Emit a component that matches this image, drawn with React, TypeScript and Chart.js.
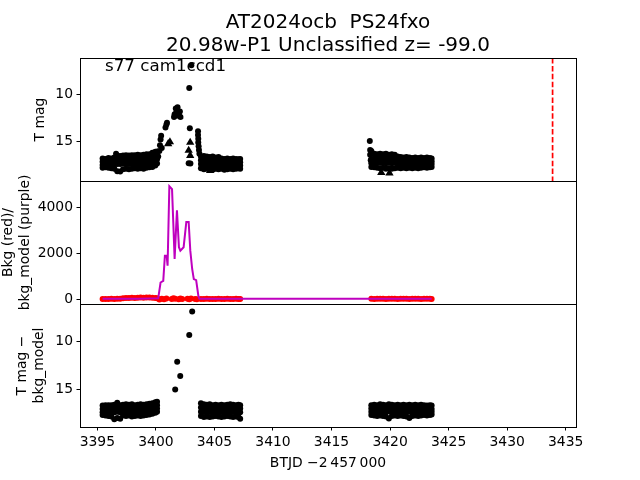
import React, { useEffect, useRef } from 'react';
import { Chart, registerables } from 'chart.js';

Chart.register(...registerables);

// ---------- text ----------
const titleLines = ['AT2024ocb  PS24fxo', '20.98w-P1 Unclassified z= -99.0'];
const panelLabel = 's77 cam1ccd1';
const xLabel = 'BTJD \u22122\u2009457\u2009000';
const yLabelTop = 'T mag';
const yLabelMid = ['Bkg (red)/', 'bkg_model (purple)'];
const yLabelBot = ['T mag \u2212', 'bkg_model'];

// ---------- axes ----------
const xRange = [3393.52, 3435.88];
const xTicks = [3395, 3400, 3405, 3410, 3415, 3420, 3425, 3430, 3435];
const magTopRange = [6.12, 19.2];
const magTicks = [10, 15];
const bkgRange = [-207, 5156];
const bkgTicks = [0, 2000, 4000];
const magBotRange = [6.02, 19.01];
const discoveryDate = 3433.88;

// ---------- observation times of the three data segments ----------
const tA = [3395.45, 3395.7, 3395.95, 3396.2, 3396.45, 3396.7, 3396.95, 3397.2, 3397.45, 3397.7, 3397.95, 3398.2, 3398.45, 3398.7, 3398.95, 3399.2, 3399.45, 3399.7, 3399.95, 3400.1];
const tB = [3403.85, 3404.1, 3404.35, 3404.6, 3404.85, 3405.1, 3405.35, 3405.6, 3405.85, 3406.1, 3406.35, 3406.6, 3406.85, 3407.05, 3407.2];
const tC = [3418.4, 3418.65, 3418.9, 3419.15, 3419.4, 3419.65, 3419.9, 3420.15, 3420.4, 3420.65, 3420.9, 3421.15, 3421.4, 3421.65, 3421.9, 3422.15, 3422.4, 3422.65, 3422.9, 3423.15, 3423.4, 3423.55];

// ---------- top panel: T mag (dots) ----------
const magA1 = [16.8, 16.85, 16.75, 16.8, 16.7, 16.5, 16.55, 16.5, 16.45, 16.5, 16.45, 16.45, 16.4, 16.45, 16.4, 16.35, 16.35, 16.2, 16.1, 16.05];
const magA2 = [17.15, 17.2, 17.1, 17.15, 17.05, 16.95, 16.95, 16.9, 16.9, 16.95, 16.9, 16.9, 16.85, 16.9, 16.85, 16.8, 16.8, 16.7, 16.55, 16.45];
const magA3 = [17.5, 17.5, 17.45, 17.5, 17.45, 17.4, 17.4, 17.35, 17.4, 17.4, 17.35, 17.35, 17.35, 17.3, 17.35, 17.3, 17.25, 17.2, 17.05, 16.9];
const magA4 = [17.8, 17.75, 17.8, 17.85, 17.9, 18.15, 18.2, 17.95, 17.9, 17.95, 17.9, 17.85, 17.9, 17.85, 17.9, 17.8, 17.75, 17.7, 17.55, 17.35];
const magB1 = [16.6, 16.55, 16.6, 16.65, 16.6, 16.7, 16.65, 16.8, 16.85, 16.8, 16.85, 16.8, 16.85, 16.9, 16.85];
const magB2 = [17.0, 17.0, 17.05, 17.05, 17.0, 17.1, 17.05, 17.15, 17.2, 17.15, 17.2, 17.15, 17.2, 17.2, 17.2];
const magB3 = [17.4, 17.45, 17.45, 17.5, 17.45, 17.5, 17.45, 17.5, 17.55, 17.5, 17.55, 17.5, 17.55, 17.5, 17.55];
const magB4 = [17.85, 17.95, 17.9, 17.95, 18.0, 17.9, 17.95, 17.9, 18.0, 17.95, 17.9, 17.95, 17.9, 17.85, 17.9];
const magC1 = [16.0, 16.3, 16.35, 16.3, 16.35, 16.3, 16.4, 16.35, 16.4, 16.6, 16.65, 16.7, 16.65, 16.7, 16.75, 16.7, 16.75, 16.7, 16.75, 16.7, 16.75, 16.8];
const magC2 = [16.9, 16.8, 16.75, 16.8, 16.75, 16.8, 16.85, 16.8, 16.85, 17.0, 17.05, 17.05, 17.0, 17.05, 17.1, 17.05, 17.1, 17.05, 17.1, 17.05, 17.1, 17.1];
const magC3 = [17.3, 17.25, 17.2, 17.25, 17.2, 17.3, 17.25, 17.3, 17.25, 17.4, 17.4, 17.45, 17.4, 17.45, 17.4, 17.45, 17.4, 17.45, 17.4, 17.45, 17.4, 17.4];
const magC4 = [17.7, 17.75, 17.8, 17.85, 17.8, 17.9, 17.85, 17.9, 17.85, 17.8, 17.85, 17.8, 17.85, 17.8, 17.85, 17.8, 17.85, 17.8, 17.75, 17.8, 17.75, 17.7];
const flareTimes = [3400.2, 3400.3, 3400.35, 3400.4, 3400.45, 3400.5, 3400.82, 3400.9, 3400.95, 3401.55, 3401.6, 3401.7, 3401.75, 3401.85, 3401.95, 3402.05, 3402.1, 3402.85, 3402.9, 3403.03, 3403.6, 3403.6, 3403.62, 3403.62, 3403.65, 3403.68, 3403.72, 3402.8, 3402.95, 3418.27, 3418.3, 3418.3, 3418.35, 3396.6];
const flareMags = [16.6, 16.0, 15.4, 14.8, 14.4, 15.7, 13.5, 13.2, 13.0, 12.4, 12.1, 11.5, 11.9, 11.35, 12.2, 11.8, 12.4, 9.3, 13.6, 6.9, 13.9, 14.3, 14.7, 15.1, 15.5, 15.9, 16.3, 17.3, 17.35, 14.95, 15.9, 16.4, 17.0, 16.3];
// top panel: triangle markers
const triTimes = [3401.05, 3401.2, 3401.9, 3402.0, 3402.93, 3402.8, 3402.93, 3404.63, 3419.25, 3419.95];
const triMags = [15.25, 15.05, 12.0, 12.3, 15.1, 15.95, 16.5, 18.1, 18.3, 18.35];

// ---------- middle panel: background ----------
const bkgA = [10, 15, 10, 20, 15, 20, 25, 40, 50, 60, 70, 60, 70, 80, 70, 75, 80, 70, 60, 40];
const bkgB = [10, 15, 20, 10, 15, 10, 20, 15, 10, 20, 15, 10, 20, 15, 10];
const bkgC = [20, 15, 20, 25, 20, 15, 20, 25, 20, 15, 20, 25, 20, 15, 20, 25, 20, 15, 20, 25, 20, 15];
const bkgFlareTimes = [3400.3, 3400.5, 3400.7, 3400.9, 3401.35, 3401.5, 3401.65, 3401.95, 3402.1, 3402.25, 3402.7, 3402.85, 3403.0, 3403.35, 3403.5];
const bkgFlareVals = [-10, 20, 0, 30, 10, 40, 20, 0, 30, 10, 20, 0, 30, 10, 0];
const modelTimes = [3395.45, 3396.5, 3397.5, 3398.5, 3399.5, 3400.2, 3400.4, 3400.63, 3400.77, 3400.92, 3401.0, 3401.15, 3401.38, 3401.48, 3401.6, 3401.8, 3401.97, 3402.09, 3402.37, 3402.6, 3402.8, 3402.94, 3403.1, 3403.24, 3403.44, 3403.63, 3403.72, 3405.5, 3407.2, 3418.35, 3420.5, 3423.55];
const modelVals = [20, 20, 25, 25, 30, 40, 730, 800, 1900, 1900, 1460, 4930, 4800, 3440, 1760, 3880, 2270, 2120, 2270, 3370, 3370, 2120, 1320, 880, 835, 145, 20, 20, 20, 20, 20, 20];

// ---------- bottom panel: T mag - bkg_model ----------
const difA1 = [16.75, 16.7, 16.7, 16.7, 16.65, 16.45, 16.7, 16.65, 16.6, 16.65, 16.6, 16.7, 16.65, 16.6, 16.65, 16.6, 16.55, 16.5, 16.4, 16.35];
const difA2 = [17.1, 17.05, 17.0, 17.1, 17.05, 17.0, 17.1, 17.05, 17.0, 17.05, 17.0, 17.1, 17.05, 17.0, 17.05, 17.0, 16.95, 16.9, 16.8, 16.7];
const difA3 = [17.45, 17.4, 17.45, 17.5, 17.45, 17.4, 17.45, 17.4, 17.45, 17.4, 17.45, 17.4, 17.45, 17.4, 17.4, 17.35, 17.3, 17.25, 17.15, 17.05];
const difA4 = [17.75, 17.8, 17.85, 17.9, 18.2, 18.05, 18.15, 17.8, 17.85, 17.8, 17.9, 17.85, 17.8, 17.85, 17.8, 17.75, 17.7, 17.6, 17.5, 17.4];
const difB1 = [16.5, 16.6, 16.65, 16.6, 16.7, 16.65, 16.7, 16.65, 16.7, 16.65, 16.6, 16.65, 16.7, 16.65, 16.7];
const difB2 = [16.95, 17.0, 17.05, 17.0, 17.05, 17.0, 17.05, 17.0, 17.05, 17.0, 17.05, 17.0, 17.05, 17.0, 17.05];
const difB3 = [17.4, 17.4, 17.45, 17.4, 17.45, 17.4, 17.45, 17.4, 17.45, 17.4, 17.45, 17.4, 17.45, 17.4, 17.45];
const difB4 = [17.85, 17.95, 17.9, 17.95, 17.9, 17.85, 17.9, 17.95, 17.9, 17.85, 17.9, 17.95, 17.9, 17.95, 18.15];
const difC1 = [16.7, 16.65, 16.7, 16.6, 16.65, 16.7, 16.6, 16.65, 16.7, 16.65, 16.7, 16.65, 16.7, 16.65, 16.7, 16.65, 16.7, 16.65, 16.7, 16.75, 16.7, 16.75];
const difC2 = [17.05, 17.0, 17.05, 17.0, 17.05, 17.0, 17.05, 17.0, 17.05, 17.0, 17.05, 17.0, 17.05, 17.0, 17.05, 17.0, 17.05, 17.0, 17.05, 17.0, 17.05, 17.1];
const difC3 = [17.4, 17.4, 17.35, 17.4, 17.35, 17.4, 17.35, 17.4, 17.35, 17.4, 17.35, 17.4, 17.35, 17.4, 17.35, 17.4, 17.35, 17.4, 17.35, 17.4, 17.35, 17.4];
const difC4 = [17.75, 17.8, 17.85, 17.8, 17.85, 17.9, 18.1, 17.85, 17.8, 17.85, 17.8, 17.85, 17.9, 18.05, 17.85, 17.8, 17.85, 17.8, 17.75, 17.8, 17.75, 17.7];
const difFlareTimes = [3401.65, 3401.82, 3402.08, 3402.85, 3403.1];
const difFlareMags = [15.06, 12.13, 13.63, 9.3, 6.82];

// ---------- helpers ----------
const zip = (ts: number[], vs: number[]) => ts.map((t, i) => ({ x: t, y: vs[i] }));
const FONT = 'DejaVu Sans';
const tickFont = { family: FONT, size: 13.9 };
const fixedTicks = (vals: number[]) => (scale: any) => {
  scale.ticks = vals.map((v) => ({ value: v }));
};
const yAxis = (range: number[], ticks: number[], reverse: boolean, weight: number, label: string | string[], pad: number) => ({
  type: 'linear' as const,
  position: 'left' as const,
  stack: 'panels',
  stackWeight: 1,
  weight,
  reverse,
  min: range[0],
  max: range[1],
  afterBuildTicks: fixedTicks(ticks),
  afterFit: (s: any) => {
    s.width = 80;
  },
  border: { display: false },
  grid: { display: true, drawOnChartArea: false, drawTicks: true, tickLength: 3.5, color: '#000', lineWidth: 1 },
  ticks: { font: tickFont, color: '#000', padding: 3.5, callback: (v: any) => String(v) },
  title: {
    display: true,
    text: label,
    color: '#000',
    font: { family: FONT, size: 13.9, lineHeight: 1.2 },
    padding: { top: pad, bottom: 0 },
  },
});

const decorPlugin = {
  id: 'decor',
  afterDraw(chart: any) {
    const { ctx, chartArea } = chart;
    ctx.save();
    ctx.strokeStyle = '#000';
    ctx.lineWidth = 1;
    for (const id of ['yTop', 'yMid', 'yBot']) {
      const s = chart.scales[id];
      ctx.strokeRect(
        Math.round(chartArea.left) + 0.5,
        Math.round(s.top) + 0.5,
        Math.round(chartArea.right - chartArea.left),
        Math.round(s.bottom - s.top)
      );
    }
    ctx.fillStyle = '#000';
    ctx.font = `20px "${FONT}"`;
    ctx.textAlign = 'center';
    ctx.textBaseline = 'alphabetic';
    const cx = (chartArea.left + chartArea.right) / 2;
    ctx.fillText(titleLines[0], cx, 28);
    ctx.fillText(titleLines[1], cx, 50.5);
    ctx.font = `16.7px "${FONT}"`;
    ctx.textAlign = 'left';
    ctx.fillText(panelLabel, chartArea.left + 25, chart.scales.yTop.top + 12.5);
    ctx.restore();
  },
};

export default function App() {
  const ref = useRef<HTMLCanvasElement | null>(null);
  useEffect(() => {
    if (!ref.current) return;
    const dot = { pointRadius: 3, pointBorderWidth: 0, backgroundColor: '#000', borderColor: '#000' };
    const chart = new Chart(ref.current, {
      type: 'scatter',
      data: {
        datasets: [
          {
            type: 'line',
            data: zip(modelTimes, modelVals),
            yAxisID: 'yMid',
            borderColor: '#bf00bf',
            borderWidth: 2,
            pointRadius: 0,
            tension: 0,
          },
          {
            type: 'line',
            data: [
              { x: discoveryDate, y: magTopRange[0] },
              { x: discoveryDate, y: magTopRange[1] },
            ],
            yAxisID: 'yTop',
            borderColor: '#ff0000',
            borderWidth: 1.7,
            borderDash: [5.5, 2.4],
            pointRadius: 0,
          },
          {
            data: [
              ...zip(tA, magA1), ...zip(tA, magA2), ...zip(tA, magA3), ...zip(tA, magA4),
              ...zip(tB, magB1), ...zip(tB, magB2), ...zip(tB, magB3), ...zip(tB, magB4),
              ...zip(tC, magC1), ...zip(tC, magC2), ...zip(tC, magC3), ...zip(tC, magC4),
              ...zip(flareTimes, flareMags),
            ],
            yAxisID: 'yTop',
            ...dot,
          },
          {
            data: zip(triTimes, triMags),
            yAxisID: 'yTop',
            pointStyle: 'triangle',
            pointRadius: 4.8,
            pointBorderWidth: 0,
            backgroundColor: '#000',
            borderColor: '#000',
          },
          {
            data: [...zip(tA, bkgA), ...zip(tB, bkgB), ...zip(tC, bkgC), ...zip(bkgFlareTimes, bkgFlareVals)],
            yAxisID: 'yMid',
            pointRadius: 3,
            pointBorderWidth: 0,
            backgroundColor: '#ff0000',
            borderColor: '#ff0000',
          },
          {
            data: [
              ...zip(tA, difA1), ...zip(tA, difA2), ...zip(tA, difA3), ...zip(tA, difA4),
              ...zip(tB, difB1), ...zip(tB, difB2), ...zip(tB, difB3), ...zip(tB, difB4),
              ...zip(tC, difC1), ...zip(tC, difC2), ...zip(tC, difC3), ...zip(tC, difC4),
              ...zip(difFlareTimes, difFlareMags),
            ],
            yAxisID: 'yBot',
            ...dot,
          },
        ] as any,
      },
      options: {
        responsive: false,
        animation: false,
        layout: { padding: { left: 0, right: 64, top: 58, bottom: 0 } },
        plugins: { legend: { display: false }, tooltip: { enabled: false }, title: { display: false } },
        scales: {
          x: {
            type: 'linear',
            position: 'bottom',
            min: xRange[0],
            max: xRange[1],
            afterBuildTicks: fixedTicks(xTicks),
            afterFit: (s: any) => {
              s.height = 53;
            },
            border: { display: false },
            grid: { display: true, drawOnChartArea: false, drawTicks: true, tickLength: 3.5, color: '#000', lineWidth: 1 },
            ticks: { font: tickFont, color: '#000', padding: 4, maxRotation: 0, callback: (v: any) => String(v) },
            title: {
              display: true,
              text: xLabel,
              color: '#000',
              font: { family: FONT, size: 13.9, lineHeight: 1.2 },
              padding: { top: 0, bottom: 8.6 },
            },
          },
          yBot: yAxis(magBotRange, magTicks, true, 1, yLabelBot, 14),
          yMid: yAxis(bkgRange, bkgTicks, false, 2, yLabelMid, 0),
          yTop: yAxis(magTopRange, magTicks, true, 3, yLabelTop, 31.6),
        } as any,
      },
      plugins: [decorPlugin],
    });
    return () => chart.destroy();
  }, []);
  return (
    <div style={{ position: 'fixed', left: 0, top: 0, width: 640, height: 480, background: '#fff' }}>
      <canvas ref={ref} width={640} height={480} style={{ display: 'block' }} />
    </div>
  );
}
